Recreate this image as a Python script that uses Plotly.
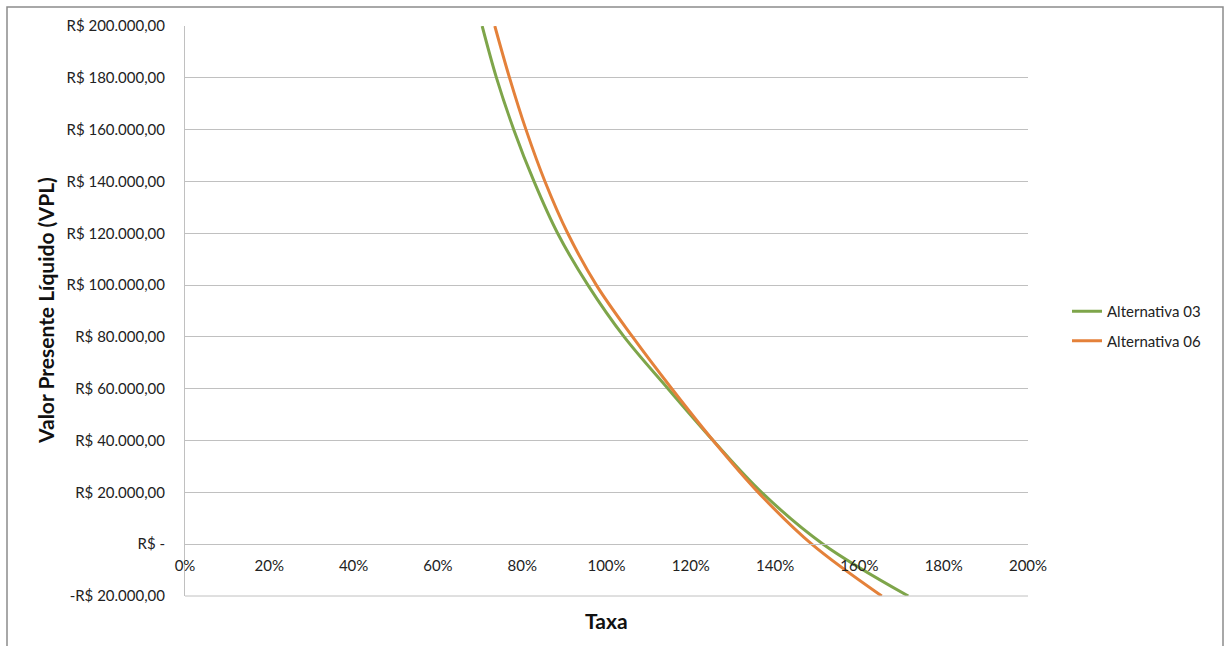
import plotly.graph_objects as go

# NPV (VPL) readings for each alternative, at the discount rate (taxa, %) where
# the curve crosses each value level
vpl_levels = [200000, 180000, 160000, 140000, 120000, 100000, 80000, 60000, 40000, 20000, 0, -20000]
taxa_alt03 = [70.5, 73.9, 78.0, 82.8, 88.4, 95.6, 104.2, 114.6, 125.3, 136.8, 151.4, 171.6]
taxa_alt06 = [73.5, 77.0, 80.9, 85.4, 90.8, 97.6, 106.2, 115.5, 125.3, 136.0, 148.7, 165.3]

y_ticks = [-20000, 0, 20000, 40000, 60000, 80000, 100000, 120000, 140000, 160000, 180000, 200000]
y_tick_labels = ["-R$ 20.000,00", "R$ -", "R$ 20.000,00", "R$ 40.000,00", "R$ 60.000,00",
                 "R$ 80.000,00", "R$ 100.000,00", "R$ 120.000,00", "R$ 140.000,00",
                 "R$ 160.000,00", "R$ 180.000,00", "R$ 200.000,00"]
x_ticks = [0, 20, 40, 60, 80, 100, 120, 140, 160, 180, 200]
x_tick_labels = [f"{v}%" for v in x_ticks]

FONT = "Lato"
GREEN = "#7EA54A"
ORANGE = "#E4813A"
GRID = "#C0C0C0"
TEXT = "#222222"

fig = go.Figure()
fig.add_trace(go.Scatter(x=[t / 100 for t in taxa_alt03], y=vpl_levels, mode="lines",
                         name="Alternativa 03", legendgroup="a03",
                         line=dict(color=GREEN, width=3, shape="spline")))
fig.add_trace(go.Scatter(x=[t / 100 for t in taxa_alt06], y=vpl_levels, mode="lines",
                         name="Alternativa 06", legendgroup="a06",
                         line=dict(color=ORANGE, width=3, shape="spline")))

W, H = 1226, 646
L, R, T, B = 185, 1028, 26, 596
zero_pos = (B - 544) / (B - T)

fig.update_layout(
    width=W, height=H,
    margin=dict(l=L, r=W - R, t=T, b=H - B, pad=0),
    paper_bgcolor="white", plot_bgcolor="white",
    font=dict(family=FONT, size=15, color=TEXT),
    showlegend=True,
    legend=dict(x=(1067 - L) / (R - L), xanchor="left", y=(B - 326) / (B - T), yanchor="middle",
                font=dict(family=FONT, size=15, color=TEXT),
                itemwidth=30, tracegroupgap=7, traceorder="grouped",
                bgcolor="rgba(0,0,0,0)"),
    xaxis=dict(range=[0, 2], tickvals=[v / 100 for v in x_ticks], ticktext=x_tick_labels,
               showgrid=False, zeroline=False, showline=True, linecolor=GRID, linewidth=1,
               anchor="free", position=zero_pos, ticks="", ticklabelstandoff=8,
               fixedrange=True),
    yaxis=dict(range=[-20000, 200000], tickvals=y_ticks, ticktext=y_tick_labels,
               showgrid=True, gridcolor=GRID, gridwidth=1, zeroline=False,
               showline=True, linecolor=GRID, linewidth=1, ticks="", ticklabelstandoff=16,
               fixedrange=True),
)

# bottom border line of plot area (at -R$ 20.000,00)
fig.add_shape(type="line", xref="paper", yref="paper", x0=0, x1=1, y0=0, y1=0,
              line=dict(color=GRID, width=1))

# outer chart frame
fig.add_shape(type="rect", xref="paper", yref="paper",
              x0=(7 - L) / (R - L), x1=(1223 - L) / (R - L),
              y0=(B - 700) / (B - T), y1=(B - 7) / (B - T),
              line=dict(color="#8C8C8C", width=1.5), fillcolor="rgba(0,0,0,0)", layer="below")

# axis titles
fig.add_annotation(text="<b>Valor Presente Líquido (VPL)</b>", xref="paper", yref="paper",
                   x=(45 - L) / (R - L), y=0.5, textangle=-90, showarrow=False,
                   font=dict(family=FONT, size=21, color="#111111"), xanchor="center", yanchor="middle")
fig.add_annotation(text="<b>Taxa</b>", xref="paper", yref="paper",
                   x=0.5, y=(B - 620) / (B - T), showarrow=False,
                   font=dict(family=FONT, size=21, color="#111111"), xanchor="center", yanchor="middle")

fig.write_html("out.html")
